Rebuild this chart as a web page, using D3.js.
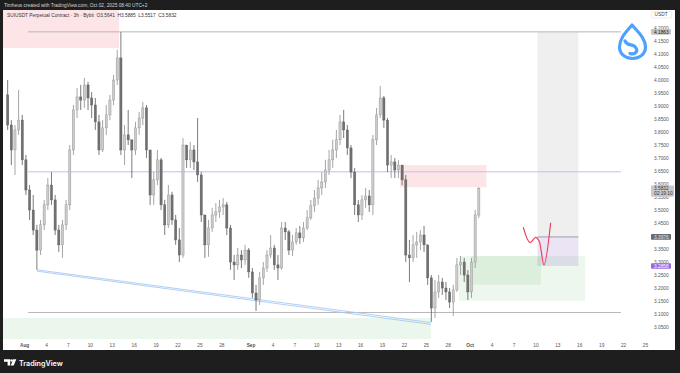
<!DOCTYPE html>
<html>
<head>
<meta charset="utf-8">
<script src="https://cdn.jsdelivr.net/npm/d3@7"></script>
<style>
  html, body { margin: 0; padding: 0; background: #1e1e1e; }
  svg { display: block; font-family: "Liberation Sans", Arial, sans-serif; }
</style>
</head>
<body>
<svg id="chart" width="680" height="373"></svg>
<script>
const width = 680;
const height = 373;

// 12h candles, first one opens 2025-07-29 12:00 UTC
const candleStart = Date.UTC(2025, 6, 29, 12);
const candleHours = 12;

const open = [3.944,3.828,3.732,3.809,3.847,3.694,3.578,3.501,3.424,3.347,
  3.444,3.521,3.597,3.540,3.424,3.367,3.444,3.521,3.732,3.886,
  3.936,3.924,3.982,3.932,3.905,3.840,3.732,3.817,3.867,3.924,
  4.001,4.086,3.732,3.790,3.771,3.732,3.817,3.855,3.894,3.732,
  3.559,3.617,3.694,3.521,3.444,3.559,3.463,3.386,3.328,3.751,
  3.694,3.732,3.686,3.636,3.482,3.367,3.432,3.482,3.494,3.513,
  3.521,3.432,3.301,3.290,3.328,3.309,3.347,3.263,3.182,3.155,
  3.240,3.278,3.328,3.355,3.290,3.278,3.432,3.417,3.347,3.378,
  3.413,3.394,3.432,3.471,3.517,3.547,3.586,3.609,3.655,3.694,
  3.732,3.771,3.840,3.809,3.740,3.647,3.521,3.482,3.540,3.555,
  3.521,3.771,3.867,3.932,3.847,3.674,3.686,3.655,3.674,3.617,
  3.328,3.317,3.367,3.378,3.405,3.367,3.240,3.124,3.186,3.224,
  3.201,3.186,3.147,3.194,3.290,3.301,3.251,3.186,3.301,3.482];
const high = [4.001,3.847,3.828,3.963,3.867,3.713,3.597,3.559,3.444,3.463,
  3.540,3.624,3.647,3.559,3.444,3.463,3.540,3.751,3.905,3.971,
  3.982,4.009,3.994,3.955,3.932,3.867,3.847,3.905,3.944,4.021,
  4.117,4.186,3.828,3.886,3.771,3.840,3.878,3.917,3.905,3.732,
  3.647,3.732,3.701,3.540,3.597,3.571,3.482,3.432,3.778,3.751,
  3.763,3.751,3.855,3.647,3.482,3.463,3.509,3.528,3.540,3.547,
  3.532,3.444,3.328,3.355,3.347,3.367,3.355,3.278,3.213,3.263,
  3.301,3.347,3.405,3.367,3.328,3.455,3.455,3.424,3.405,3.432,
  3.440,3.455,3.501,3.540,3.578,3.617,3.647,3.694,3.732,3.771,
  3.809,3.867,3.886,3.828,3.751,3.663,3.540,3.559,3.586,3.578,
  3.790,3.894,3.978,3.940,3.855,3.713,3.701,3.694,3.674,3.636,
  3.386,3.405,3.417,3.424,3.440,3.367,3.251,3.232,3.251,3.240,
  3.224,3.201,3.213,3.317,3.324,3.317,3.270,3.317,3.501,3.589];
const low = [3.809,3.674,3.636,3.790,3.674,3.559,3.463,3.405,3.271,3.328,
  3.424,3.501,3.521,3.405,3.340,3.317,3.424,3.501,3.713,3.855,
  3.886,3.894,3.886,3.855,3.809,3.713,3.724,3.790,3.847,3.905,
  3.982,3.713,3.674,3.751,3.624,3.713,3.790,3.828,3.701,3.521,
  3.521,3.597,3.501,3.405,3.432,3.444,3.367,3.301,3.317,3.663,
  3.663,3.655,3.609,3.455,3.317,3.321,3.417,3.455,3.471,3.482,
  3.405,3.271,3.232,3.271,3.278,3.290,3.240,3.163,3.113,3.136,
  3.213,3.263,3.317,3.271,3.232,3.271,3.386,3.328,3.324,3.367,
  3.371,3.378,3.424,3.463,3.494,3.521,3.559,3.586,3.636,3.663,
  3.701,3.751,3.778,3.713,3.624,3.482,3.455,3.463,3.509,3.494,
  3.482,3.751,3.855,3.817,3.647,3.624,3.624,3.624,3.597,3.301,
  3.224,3.301,3.317,3.347,3.340,3.213,3.071,3.086,3.163,3.174,
  3.155,3.124,3.094,3.186,3.251,3.224,3.155,3.163,3.278,3.470];
const close = [3.828,3.732,3.809,3.847,3.694,3.578,3.501,3.424,3.347,3.444,
  3.521,3.597,3.540,3.424,3.367,3.444,3.521,3.732,3.886,3.936,
  3.924,3.982,3.932,3.905,3.840,3.732,3.817,3.867,3.924,4.001,
  4.086,3.732,3.790,3.771,3.732,3.817,3.855,3.894,3.732,3.559,
  3.617,3.694,3.521,3.444,3.559,3.463,3.386,3.328,3.751,3.694,
  3.732,3.686,3.636,3.482,3.367,3.432,3.482,3.494,3.513,3.521,
  3.432,3.301,3.290,3.328,3.309,3.347,3.263,3.182,3.155,3.240,
  3.278,3.328,3.355,3.290,3.278,3.432,3.417,3.347,3.378,3.413,
  3.394,3.432,3.471,3.517,3.547,3.586,3.609,3.655,3.694,3.732,
  3.771,3.840,3.809,3.740,3.647,3.521,3.482,3.540,3.555,3.521,
  3.771,3.867,3.932,3.847,3.674,3.686,3.655,3.674,3.617,3.328,
  3.317,3.367,3.378,3.405,3.367,3.240,3.124,3.186,3.224,3.201,
  3.186,3.147,3.194,3.290,3.301,3.251,3.186,3.301,3.482,3.583];

// axis ticks
const priceTicks = d3.range(61, 85).map(k => k * 0.05);
const augDays = [1, 4, 7, 10, 13, 16, 19, 22, 25, 28];
const sepDays = [1, 4, 7, 10, 13, 16, 19, 22, 25, 28];
const octDays = [1, 4, 7, 10, 13, 16, 19, 22, 25];

// drawings, in time / price
const levels = [4.1863, 3.648, 3.107];
const levelFrom = Date.UTC(2025, 7, 1, 13);
const levelTo = Date.UTC(2025, 9, 21, 17);
const trendA = [[Date.UTC(2025, 7, 2, 18), 3.271], [Date.UTC(2025, 8, 25, 17), 3.068]];
const trendB = [[Date.UTC(2025, 7, 2, 18), 3.266], [Date.UTC(2025, 8, 25, 17), 3.061]];
const sketchTimes = [Date.UTC(2025, 9, 8, 8), Date.UTC(2025, 9, 9, 6), Date.UTC(2025, 9, 10, 1),
  Date.UTC(2025, 9, 10, 12), Date.UTC(2025, 9, 11, 4), Date.UTC(2025, 9, 12, 2)];
const sketchPrices = [3.435, 3.376, 3.396, 3.382, 3.290, 3.452];

const lastPrice = 3.5832;
const target = 4.1863, entry = 3.3976, stop = 3.2858;

const svg = d3.select("#chart");

// frame
svg.append("rect").attr("width", width).attr("height", height).attr("fill", "#1e1e1e");
svg.append("rect").attr("x", 3).attr("y", 10).attr("width", 672).attr("height", 340).attr("fill", "#ffffff");

const x = d3.scaleUtc()
  .domain([new Date(Date.UTC(2025, 7, 1)), new Date(Date.UTC(2025, 9, 25))])
  .range([24.1, 645]);
const y = d3.scaleLinear().domain([3.05, 4.15]).range([327.3, 41.3]);

svg.append("clipPath").attr("id", "plot")
  .append("rect").attr("x", 3).attr("y", 10).attr("width", 647).attr("height", 329);

const plot = svg.append("g").attr("clip-path", "url(#plot)");
const T = ms => x(new Date(ms));

// zones
const zones = [
  { t0: Date.UTC(2025, 6, 20), t1: Date.UTC(2025, 7, 14), p0: 4.124, p1: 4.6, fill: "rgba(242,54,69,0.13)" },
  { t0: Date.UTC(2025, 6, 20), t1: Date.UTC(2025, 8, 25, 17), p0: 2.8, p1: 3.086, fill: "rgba(76,175,80,0.11)" },
  { t0: Date.UTC(2025, 8, 21, 11), t1: Date.UTC(2025, 9, 3, 7), p0: 3.589, p1: 3.674, fill: "rgba(242,54,69,0.13)" },
  { t0: Date.UTC(2025, 8, 29, 13), t1: Date.UTC(2025, 9, 16, 19), p0: 3.152, p1: 3.324, fill: "rgba(76,175,80,0.1)" },
  { t0: Date.UTC(2025, 9, 1, 4), t1: Date.UTC(2025, 9, 10, 18), p0: 3.214, p1: 3.324, fill: "rgba(76,175,80,0.1)" },
  { t0: Date.UTC(2025, 9, 10, 7), t1: Date.UTC(2025, 9, 15, 21), p0: entry, p1: target, fill: "rgba(120,123,134,0.12)" },
  { t0: Date.UTC(2025, 9, 10, 7), t1: Date.UTC(2025, 9, 15, 21), p0: stop, p1: entry, fill: "rgba(126,87,194,0.16)" }
];
plot.selectAll("rect.zone").data(zones).join("rect")
  .attr("class", "zone")
  .attr("x", d => T(d.t0))
  .attr("width", d => T(d.t1) - T(d.t0))
  .attr("y", d => y(d.p1))
  .attr("height", d => y(d.p0) - y(d.p1))
  .attr("fill", d => d.fill);

plot.append("line")
  .attr("x1", T(Date.UTC(2025, 9, 10, 7))).attr("x2", T(Date.UTC(2025, 9, 15, 21)))
  .attr("y1", y(entry)).attr("y2", y(entry))
  .attr("stroke", "#9e9aa8").attr("stroke-width", 1);

// horizontal levels
plot.selectAll("line.level").data(levels).join("line")
  .attr("class", "level")
  .attr("x1", T(levelFrom)).attr("x2", T(levelTo))
  .attr("y1", d => y(d)).attr("y2", d => y(d))
  .attr("stroke", (d, i) => i === 1 ? "#c9bde9" : "#b8b8b8")
  .attr("stroke-width", 1);

// trend lines
const tl = d3.line().x(d => T(d[0])).y(d => y(d[1]));
[trendA, trendB].forEach(t => {
  plot.append("path").attr("d", tl(t)).attr("fill", "none")
    .attr("stroke", "#a9c9f3").attr("stroke-width", 0.9);
});

// candles
const candles = open.map((o, i) => ({
  t: candleStart + (i + 0.5) * candleHours * 3600e3,
  o, h: high[i], l: low[i], c: close[i]
}));
const g = plot.append("g");
g.selectAll("line.wick").data(candles).join("line")
  .attr("class", "wick")
  .attr("x1", d => T(d.t)).attr("x2", d => T(d.t))
  .attr("y1", d => y(d.h)).attr("y2", d => y(d.l))
  .attr("stroke", d => d.c >= d.o ? "#8e8e8e" : "#5a5a5a")
  .attr("stroke-width", 0.8);
g.selectAll("rect.body").data(candles).join("rect")
  .attr("class", "body")
  .attr("x", d => T(d.t) - 1.1)
  .attr("width", 2.2)
  .attr("y", d => y(Math.max(d.o, d.c)))
  .attr("height", d => Math.max(0.6, Math.abs(y(d.o) - y(d.c))))
  .attr("fill", d => d.c >= d.o ? "#cbcbcb" : "#717171")
  .attr("stroke", d => d.c >= d.o ? "#8e8e8e" : "#5a5a5a")
  .attr("stroke-width", 0.4);

// hand drawn sketch
plot.append("path")
  .attr("d", d3.line().curve(d3.curveCatmullRom)
    .x((d, i) => T(sketchTimes[i])).y(d => y(d))(sketchPrices))
  .attr("fill", "none").attr("stroke", "#ef3d5c").attr("stroke-width", 1.2);

// price axis
const yAxis = svg.append("g").attr("transform", "translate(654,0)")
  .call(d3.axisRight(y).tickValues(priceTicks).tickFormat(d3.format(".4f")).tickSize(0).tickPadding(0));
yAxis.select(".domain").remove();
yAxis.selectAll("text").attr("font-size", 4.8).attr("fill", "#555").attr("font-family", "Liberation Sans, Arial");

// date axis
const dateTicks = [
  ...augDays.map(d => new Date(Date.UTC(2025, 7, d))),
  ...sepDays.map(d => new Date(Date.UTC(2025, 8, d))),
  ...octDays.map(d => new Date(Date.UTC(2025, 9, d)))
];
const xAxis = svg.append("g").attr("transform", "translate(0,339)")
  .call(d3.axisBottom(x).tickValues(dateTicks)
    .tickFormat(d => d.getUTCDate() === 1 ? d3.utcFormat("%b")(d) : String(d.getUTCDate()))
    .tickSize(0).tickPadding(4.4));
xAxis.select(".domain").remove();
xAxis.selectAll("text").attr("font-size", 4.8).attr("fill", "#555").attr("font-family", "Liberation Sans, Arial")
  .attr("font-weight", d => d.getUTCDate() === 1 ? 700 : 400);

// price tags on the scale
function tag(price, fill, w) {
  svg.append("rect").attr("x", 651).attr("y", y(price) - 2.8).attr("width", w).attr("height", 5.6)
    .attr("rx", 0.8).attr("fill", fill);
}
function tagText(txt, yy, color) {
  svg.append("text").attr("x", 654).attr("y", yy).attr("dy", "0.35em")
    .attr("font-size", 4.8).attr("fill", color).text(txt);
}
tag(target, "#c3c3c3", 20);
tagText("4.1863", y(target), "#222");
svg.append("rect").attr("x", 651).attr("y", y(lastPrice) - 3.2).attr("width", 23).attr("height", 11.2)
  .attr("rx", 0.8).attr("fill", "#c9c9c9");
tagText("3.5832", y(lastPrice), "#333");
tagText("02:19:10", y(lastPrice) + 4.8, "#333");
tag(entry, "#696c75", 20);
tagText("3.3976", y(entry), "#e4e4e4");
tag(stop, "#9a6ade", 20);
tagText("3.2858", y(stop), "#ffffff");

// USDT box
svg.append("rect").attr("x", 651.5).attr("y", 11.5).attr("width", 20).attr("height", 6.5)
  .attr("fill", "#fff").attr("stroke", "#e2e2e2").attr("stroke-width", 0.6).attr("rx", 0.8);
svg.append("text").attr("x", 654.5).attr("y", 14.8).attr("dy", "0.35em").attr("font-size", 4.8)
  .attr("fill", "#444").text("USDT");

// header texts
svg.append("text").attr("x", 4).attr("y", 6.8).attr("font-size", 4.8).attr("fill", "#d6d6d6")
  .text("Timheus created with TradingView.com, Oct 02, 2025 08:40 UTC+2");
svg.append("text").attr("x", 7).attr("y", 17.4).attr("font-size", 4.8).attr("fill", "#333")
  .attr("xml:space", "preserve")
  .text("SUIUSDT Perpetual Contract · 3h · Bybit  O3.5641  H3.5885  L3.5517  C3.5832");

// Sui logo
const logo = svg.append("g").attr("fill", "none").attr("stroke", "#4da2ff").attr("stroke-width", 3.2)
  .attr("stroke-linejoin", "round").attr("stroke-linecap", "round");
logo.append("path").attr("d", "M632,25 C637,31 645.5,38 645.5,47 C645.5,54 639.5,58.5 632.5,58.5 C625.5,58.5 619.5,54 619.5,47 C619.5,38 627,31 632,25 Z");
logo.append("path").attr("d", "M625,41 C628,47 633,43 636,48 C638.5,52 634,55 630,53.5");

// TradingView footer
const foot = svg.append("g").attr("fill", "#ffffff");
foot.append("path").attr("d", "M4,359.3 h6.2 v6.2 h-2.6 v-3.8 h-3.6 z");
foot.append("circle").attr("cx", 11.6).attr("cy", 360.6).attr("r", 1.25);
foot.append("path").attr("d", "M13.3,359.3 h3 l-2.6,6.2 h-3 z");
foot.append("text").attr("x", 19).attr("y", 365.6).attr("font-size", 7.2).attr("font-weight", 600)
  .attr("font-family", "Inter, Liberation Sans, Arial").text("TradingView");
</script>
</body>
</html>
